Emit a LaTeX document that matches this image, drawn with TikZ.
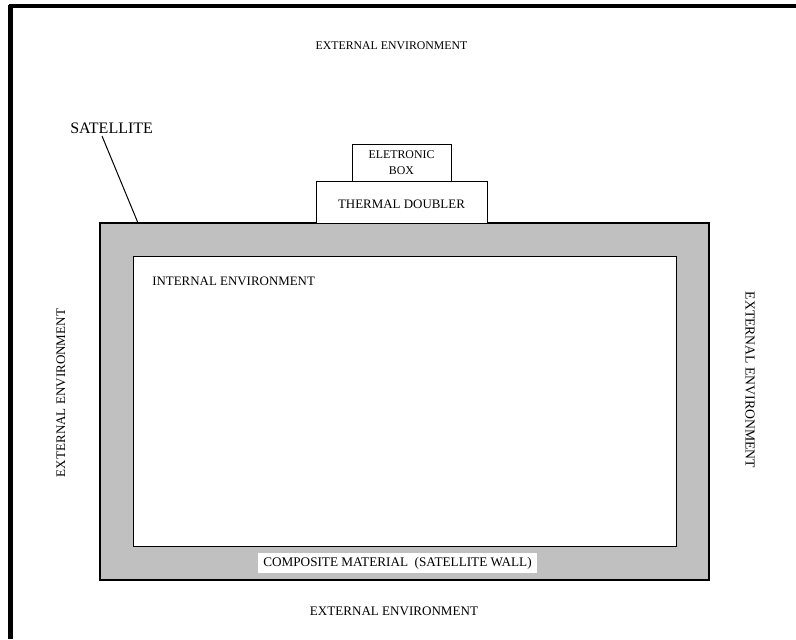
\documentclass[tikz,border=0pt]{standalone}
\usepackage{fontspec}
\setmainfont{Liberation Serif}
\definecolor{wallgray}{RGB}{192,192,192}
\tikzset{
	lbl/.style={inner sep=0.75pt, font=\fontsize{9.8}{11}\selectfont},
	part/.style={draw, line width=0.75, fill=white}
}

\begin{document}
\begin{tikzpicture}[x=0.75pt,y=0.75pt,yscale=-1,xscale=1]
	\useasboundingbox (0,0) rectangle (796,639);
	% frame
	\draw [line width=3]   (9,6) -- (796,6) ;
	\draw [line width=3.5]   (10.5,4.5) -- (10.5,639) ;
	% satellite wall and inside
	\draw [fill=wallgray, line width=0.9]   (100,223) -- (709,223) -- (709,580) -- (100,580) -- cycle ;
	\draw [part]   (133,256) -- (676,256) -- (676,546) -- (133,546) -- cycle ;
	\draw [part]   (316,181) -- (487,181) -- (487,223) -- (316,223) -- cycle ;
	\draw [part]   (352,144) -- (451,144) -- (451,181) -- (352,181) -- cycle ;

	\draw (391.5,46) node [lbl, font=\fontsize{8.85}{10}\selectfont] (extTop)   {EXTERNAL ENVIRONMENT};
	\draw (394,611) node [lbl] (extBot)   {EXTERNAL ENVIRONMENT};
	\draw (61,393) node [lbl, rotate=90] (extLeft)   {EXTERNAL ENVIRONMENT};
	\draw (750,380) node [lbl, rotate=-90, font=\fontsize{10.3}{11}\selectfont] (extRight)   {EXTERNAL ENVIRONMENT};
	\draw (69,128) node [anchor=west][lbl, font=\fontsize{12}{13}\selectfont] (sat)   {SATELLITE};
	\draw (151,281) node [anchor=west][lbl, font=\fontsize{9.7}{11}\selectfont] (intEnv)   {INTERNAL ENVIRONMENT};
	\draw (401.5,204) node [lbl, font=\fontsize{9.7}{11}\selectfont] (doubler)   {THERMAL DOUBLER};
	\draw (401.5,162.5) node [lbl, align=center, font=\fontsize{8.9}{11.5}\selectfont] (ebox)   {ELETRONIC\\BOX};
	\draw (397.5,563) node [fill=white, inner xsep=4pt, inner ysep=3pt, font=\fontsize{9.9}{11}\selectfont] (wall)   {COMPOSITE MATERIAL\ \ (SATELLITE WALL)};

	\coordinate (satTip) at (138,223);
	\draw [line width=0.75]   (102,136) -- (satTip) ;
\end{tikzpicture}
\end{document}
